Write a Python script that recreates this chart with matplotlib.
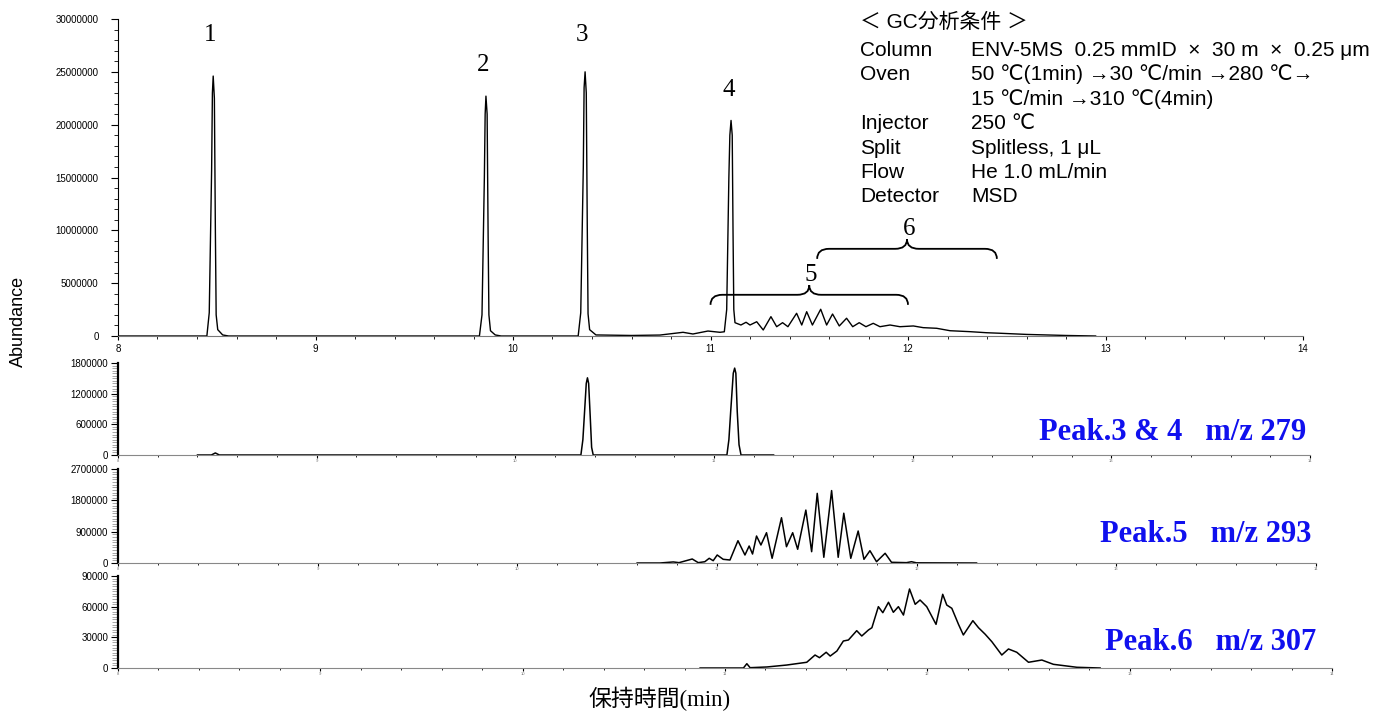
import matplotlib
matplotlib.use("Agg")
import matplotlib.pyplot as plt
from matplotlib.path import Path
from matplotlib.patches import PathPatch
from matplotlib.ticker import MultipleLocator, FuncFormatter

plt.rcParams['font.family'] = ['Liberation Sans', 'Noto Sans CJK JP']

# total ion chromatogram (min, abundance)
tic_time = [8.00, 8.45, 8.462, 8.474, 8.478, 8.482, 8.488, 8.493, 8.497, 8.505, 8.53, 8.56,
            9.83, 9.843, 9.855, 9.859, 9.863, 9.869, 9.874, 9.878, 9.886, 9.91, 9.94,
            10.33, 10.343, 10.356, 10.360, 10.365, 10.371, 10.376, 10.380, 10.388, 10.42,
            10.60, 10.744, 10.861, 10.911, 10.987, 11.048,
            11.070, 11.082, 11.093, 11.098, 11.104, 11.110, 11.114, 11.118,
            11.124, 11.154, 11.180, 11.200, 11.234, 11.267, 11.306, 11.335, 11.365, 11.392,
            11.436, 11.462, 11.487, 11.516, 11.558, 11.588, 11.618, 11.652, 11.689, 11.720,
            11.753, 11.787, 11.824, 11.858, 11.909, 11.959, 12.027, 12.077, 12.145, 12.213,
            12.314, 12.398, 12.466, 12.60, 12.80, 12.95]
tic_abund = [0, 0, 2.2e6, 15.7e6, 23.0e6, 24.6e6, 22.5e6, 10.0e6, 2.0e6, 0.6e6, 0.1e6, 0,
             0, 2.0e6, 15.0e6, 21.0e6, 22.7e6, 21.0e6, 9.5e6, 2.0e6, 0.5e6, 0.1e6, 0,
             0, 2.2e6, 16.0e6, 23.5e6, 25.0e6, 23.0e6, 10.5e6, 2.1e6, 0.6e6, 0.1e6,
             0.05e6, 0.09e6, 0.35e6, 0.19e6, 0.47e6, 0.35e6,
             0.4e6, 2.5e6, 15.0e6, 19.0e6, 20.4e6, 19.0e6, 10.0e6, 2.5e6,
             1.26e6, 1.04e6, 1.30e6, 1.04e6, 1.35e6, 0.57e6, 1.83e6, 0.88e6, 1.26e6, 0.88e6,
             2.15e6, 1.04e6, 2.30e6, 1.04e6, 2.53e6, 1.04e6, 2.08e6, 0.95e6, 1.68e6, 0.88e6,
             1.26e6, 0.88e6, 1.20e6, 0.88e6, 1.04e6, 0.88e6, 0.95e6, 0.79e6, 0.73e6, 0.50e6,
             0.41e6, 0.31e6, 0.26e6, 0.15e6, 0.05e6, 0]

# extracted ion chromatograms
m279_time = [8.40, 8.47, 8.49, 8.51, 10.33, 10.34, 10.347, 10.357, 10.363, 10.369, 10.377,
             10.384, 10.392, 11.065, 11.075, 11.084, 11.097, 11.104, 11.110, 11.117, 11.126,
             11.136, 11.30]
m279_abund = [0, 0, 40000, 0, 0, 0.3e6, 0.75e6, 1.4e6, 1.51e6, 1.4e6, 0.75e6,
              0.15e6, 0, 0, 0.3e6, 0.85e6, 1.6e6, 1.70e6, 1.6e6, 0.85e6, 0.2e6,
              0, 0]

m293_time = [10.60, 10.714, 10.781, 10.81, 10.876, 10.906, 10.939, 10.961, 10.981, 11.001,
             11.031, 11.065, 11.105, 11.140, 11.161, 11.178, 11.198, 11.220, 11.248, 11.276,
             11.323, 11.348, 11.379, 11.404, 11.445, 11.474, 11.502, 11.535, 11.574, 11.607,
             11.635, 11.670, 11.707, 11.736, 11.766, 11.799, 11.842, 11.874, 11.949, 11.974,
             11.999, 12.30]
m293_abund = [0, 0, 30000, 10000, 115000, 10000, 37000, 135000, 66000, 230000,
              106000, 86000, 640000, 230000, 488000, 258000, 775000, 517000, 870000, 135000,
              1.30e6, 468000, 870000, 394000, 1.52e6, 325000, 2.00e6, 164000, 2.08e6, 164000,
              1.43e6, 135000, 919000, 106000, 353000, 37000, 279000, 20000, 10000, 37000,
              5000, 0]

m307_time = [10.877, 11.091, 11.108, 11.124, 11.207, 11.305, 11.404, 11.445, 11.467, 11.500,
             11.520, 11.553, 11.585, 11.610, 11.651, 11.676, 11.709, 11.726, 11.758, 11.780,
             11.808, 11.832, 11.857, 11.882, 11.912, 11.940, 11.964, 11.997, 12.043, 12.076,
             12.096, 12.121, 12.154, 12.178, 12.225, 12.253, 12.286, 12.319, 12.368, 12.401,
             12.442, 12.500, 12.566, 12.623, 12.739, 12.854]
m307_abund = [0, 0, 4200, 300, 1000, 2900, 5600, 12700, 10100, 15400,
              11700, 16600, 26400, 27400, 36500, 31300, 37200, 39400, 60000, 54100,
              64300, 54500, 60000, 51800, 77300, 62300, 66500, 60000, 42700, 72100,
              61600, 58400, 42700, 32300, 46300, 39400, 33000, 25700, 12700, 18600,
              15400, 5600, 7800, 3600, 700, 0]

peak_names = ['1', '2', '3', '4']
peak_rt = [8.482, 9.863, 10.365, 11.104]
peak_top = [24.6e6, 22.7e6, 25.0e6, 20.4e6]

group_names = ['5', '6']
group_start = [11.0, 11.54]
group_end = [12.0, 12.45]

ion_labels = ['Peak.3 & 4   m/z 279', 'Peak.5   m/z 293', 'Peak.6   m/z 307']

cond_keys = ['Column', 'Oven', '', 'Injector', 'Split', 'Flow', 'Detector']
cond_vals = ['ENV-5MS  0.25 mmID  ×  30 m  ×  0.25 μm',
             '50 ℃(1min) →30 ℃/min →280 ℃→',
             '15 ℃/min →310 ℃(4min)',
             '250 ℃',
             'Splitless, 1 μL',
             'He 1.0 mL/min',
             'MSD']

W, H = 1383, 712
fig = plt.figure(figsize=(W / 100, H / 100), dpi=100)


def box(left, right, top, bottom):
    return [left / W, 1 - bottom / H, (right - left) / W, (bottom - top) / H]


intfmt = FuncFormatter(lambda v, p: f'{v:.0f}')

# ---- top panel: TIC
ax = fig.add_axes(box(118, 1303, 19, 336))
ax.plot(tic_time, tic_abund, color='black', lw=1.0)
ax.set_xlim(8, 14)
ax.set_ylim(0, 30e6)
for s in ['top', 'right']:
    ax.spines[s].set_visible(False)
ax.spines['bottom'].set_color('#777777')
ax.yaxis.set_major_locator(MultipleLocator(5e6))
ax.yaxis.set_minor_locator(MultipleLocator(1e6))
ax.yaxis.set_major_formatter(intfmt)
ax.xaxis.set_major_locator(MultipleLocator(1))
ax.xaxis.set_minor_locator(MultipleLocator(0.2))
ax.tick_params(axis='y', which='major', length=5, pad=9, labelsize=7)
ax.tick_params(axis='y', which='minor', length=3)
ax.tick_params(axis='x', which='major', length=3, pad=3, labelsize=7)
ax.tick_params(axis='x', which='minor', length=2)

label_off = [41, 31, 37, 30]
for name, rt, top, off in zip(peak_names, peak_rt, peak_top, label_off):
    ax.annotate(name, (rt, top), xytext=(-2, off * 0.72), textcoords='offset points',
                ha='center', va='center', fontsize=18, family='Liberation Serif')

# curly braces over the unresolved groups
brace_line = [3.9e6, 8.25e6]
for name, x0, x1, yl in zip(group_names, group_start, group_end, brace_line):
    ye, yc, r, xm = yl - 0.95e6, yl + 0.9e6, 0.06, (x0 + x1) / 2
    verts = [(x0, ye), (x0, yl), (x0 + r, yl), (xm - r, yl), (xm, yl), (xm, yc),
             (xm, yl), (xm + r, yl), (x1 - r, yl), (x1, yl), (x1, ye)]
    codes = [Path.MOVETO, Path.CURVE3, Path.CURVE3, Path.LINETO, Path.CURVE3, Path.CURVE3,
             Path.CURVE3, Path.CURVE3, Path.LINETO, Path.CURVE3, Path.CURVE3]
    ax.add_patch(PathPatch(Path(verts, codes), fill=False, lw=1.3, color='black'))
    ax.text(xm + 0.01, yc + 1.0e6, name, ha='center', va='center', fontsize=18,
            family='Liberation Serif')

# ---- three ion panels
ions = [(m279_time, m279_abund, 1.8e6, 600000, 50000, 1310, 363, 455, 432, 1306),
        (m293_time, m293_abund, 2.7e6, 900000, 75000, 1316, 469, 563, 535, 1311),
        (m307_time, m307_abund, 90000, 30000, 2500, 1332, 576, 668, 643, 1316)]
for (t, a, ymax, step, minor, right, top, bottom, ly, lx), lab in zip(ions, ion_labels):
    bx = fig.add_axes(box(118, right, top, bottom))
    bx.plot(t, a, color='black', lw=1.1)
    bx.set_xlim(8, 14)
    bx.set_ylim(0, ymax)
    for s in ['top', 'right']:
        bx.spines[s].set_visible(False)
    bx.spines['left'].set_linewidth(1.6)
    bx.spines['bottom'].set_color('#888888')
    bx.yaxis.set_major_locator(MultipleLocator(step))
    bx.yaxis.set_minor_locator(MultipleLocator(minor))
    bx.yaxis.set_major_formatter(intfmt)
    bx.xaxis.set_major_locator(MultipleLocator(1))
    bx.xaxis.set_minor_locator(MultipleLocator(0.2))
    bx.tick_params(axis='y', which='major', length=5, pad=2, labelsize=7)
    bx.tick_params(axis='y', which='minor', length=4, color='#999999', width=0.6)
    bx.tick_params(axis='x', which='major', length=2, pad=1, labelsize=3,
                   labelcolor='#777777')
    bx.tick_params(axis='x', which='minor', length=1.5)
    fig.text(lx / W, 1 - ly / H, lab, ha='right', va='center', fontsize=22,
             fontweight='bold', family='Liberation Serif', color='#1010ee')

# ---- GC conditions
cond_font = ['Liberation Sans', 'DejaVu Sans', 'Noto Sans CJK JP']
fig.text(860 / W, 1 - 22 / H, '＜ GC分析条件 ＞', ha='left', va='center', fontsize=15)
for i, (k, v) in enumerate(zip(cond_keys, cond_vals)):
    y = 1 - (50 + 24.5 * i) / H
    fig.text(860 / W, y, k, ha='left', va='center', fontsize=15, family=cond_font)
    fig.text(971 / W, y, v, ha='left', va='center', fontsize=15, family=cond_font)

fig.text(18 / W, 1 - 321 / H, 'Abundance', rotation=90, ha='center', va='center',
         fontsize=13)
fig.text(660 / W, 1 - 699 / H, '保持時間(min)', ha='center', va='center', fontsize=16.5,
         family=['Liberation Serif', 'Noto Sans CJK JP'])

fig.savefig('out.png', dpi=100)
